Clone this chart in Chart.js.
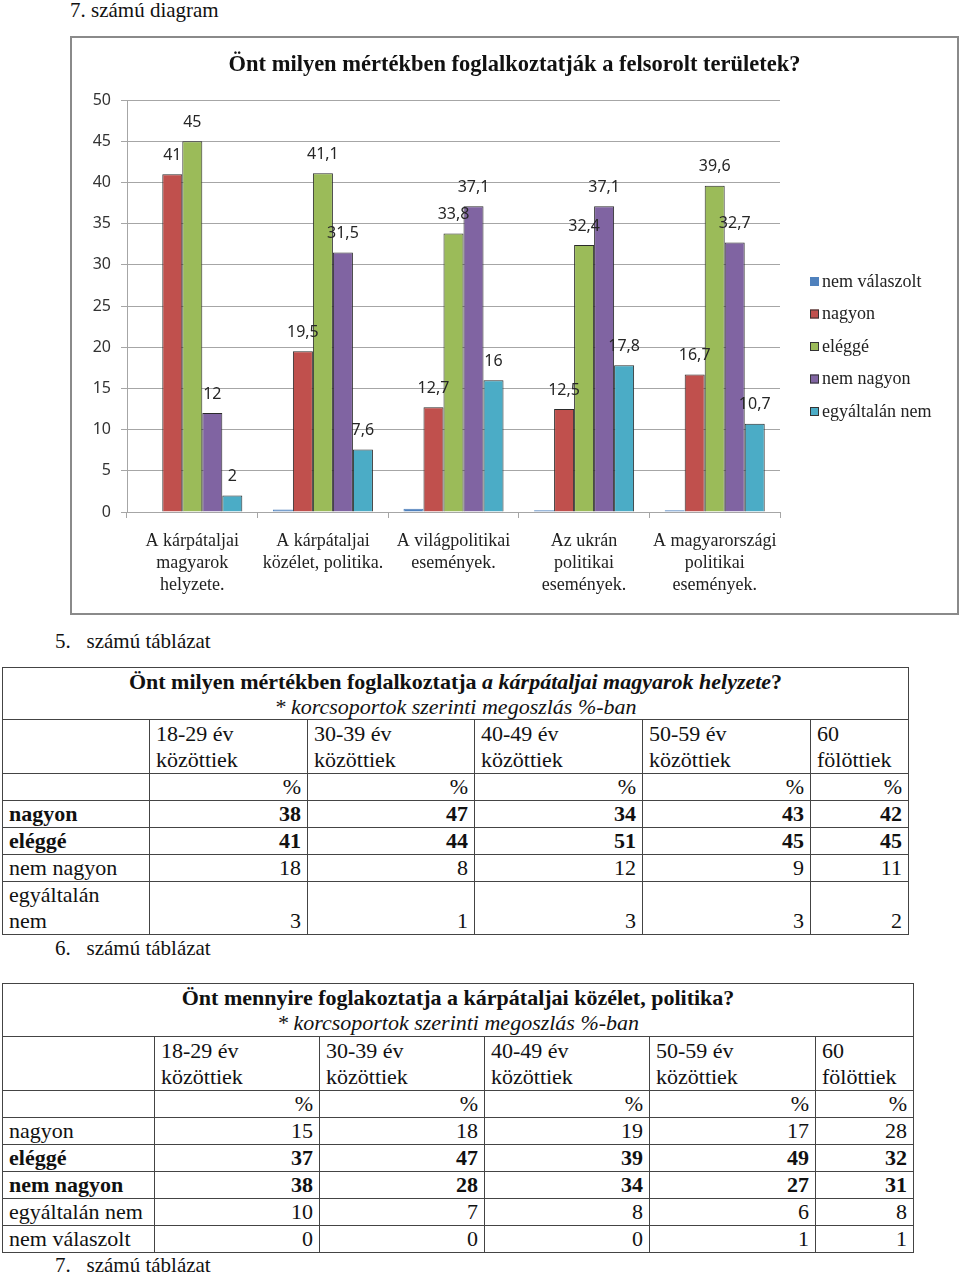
<!DOCTYPE html>
<html lang="hu">
<head>
<meta charset="utf-8">
<title>7. számú diagram</title>
<script src="https://cdn.jsdelivr.net/npm/chart.js@4.4.0/dist/chart.umd.min.js"></script>
<style>
    body { margin: 0; background: #fff; font-family: "Liberation Serif", "Times New Roman", serif; color: #111; }
    .page { position: relative; width: 960px; height: 1275px; overflow: hidden; }
    .caption { position: absolute; font-size: 21px; line-height: 24px; white-space: nowrap; }
    .frame { position: absolute; left: 70px; top: 36px; width: 889px; height: 579px; border: 2px solid #8a8a8a; box-sizing: border-box; }
    .frame .inner { position: relative; width: 885px; height: 575px; }
    table.tab { position: absolute; border-collapse: collapse; table-layout: fixed; font-size: 22px; font-family: "Liberation Serif", "Times New Roman", serif; }
    table.tab td { border: 1px solid #444; padding: 0 6px; white-space: nowrap; line-height: 26px; vertical-align: middle; }
    table.tab td.num { text-align: right; }
    table.tab td.title { text-align: center; line-height: 25px; padding: 0; }
    table.tab tr.b td { font-weight: bold; }
    table.tab td.bot { vertical-align: bottom; }
</style>
</head>
<body>
<div class="page">
    <div class="caption" style="left:70px; top:-2px;">7. számú diagram</div>

    <div class="frame"><div class="inner"><canvas id="chart-areas"></canvas></div></div>

    <div class="caption" style="left:55px; top:629px;">5.&nbsp;&nbsp;&nbsp;számú táblázat</div>
    <table class="tab" id="table-5" style="left:2px; top:667px;"></table>

    <div class="caption" style="left:55px; top:936px;">6.&nbsp;&nbsp;&nbsp;számú táblázat</div>
    <table class="tab" id="table-6" style="left:2px; top:983px;"></table>

    <div class="caption" style="left:55px; top:1253px;">7.&nbsp;&nbsp;&nbsp;számú táblázat</div>
</div>

<script>
/* ── Chart data ── */
var areaLabels = [
    ['A kárpátaljai', 'magyarok', 'helyzete.'],
    ['A kárpátaljai', 'közélet, politika.'],
    ['A világpolitikai', 'események.'],
    ['Az ukrán', 'politikai', 'események.'],
    ['A magyarországi', 'politikai', 'események.']
];
var seriesNames = ['nem válaszolt', 'nagyon', 'eléggé', 'nem nagyon', 'egyáltalán nem'];
var nemValaszolt = [0, 0.3, 0.4, 0.2, 0.2];
var nagyon = [41, 19.5, 12.7, 12.5, 16.7];
var eleggeVals = [45, 41.1, 33.8, 32.4, 39.6];
var nemNagyon = [12, 31.5, 37.1, 37.1, 32.7];
var egyaltalanNem = [2, 7.6, 16, 17.8, 10.7];
var seriesColors = ['#4f81bd', '#c0504d', '#9bbb59', '#8064a2', '#4bacc6'];

/* ── Table data ── */
var ageGroups = [['18-29 év', 'közöttiek'], ['30-39 év', 'közöttiek'], ['40-49 év', 'közöttiek'], ['50-59 év', 'közöttiek'], ['60', 'fölöttiek']];
var t5Rows = ['nagyon', 'eléggé', 'nem nagyon', 'egyáltalán nem'];
var t5Nagyon = [38, 47, 34, 43, 42];
var t5Elegge = [41, 44, 51, 45, 45];
var t5NemNagyon = [18, 8, 12, 9, 11];
var t5Egyaltalan = [3, 1, 3, 3, 2];
var t6Rows = ['nagyon', 'eléggé', 'nem nagyon', 'egyáltalán nem', 'nem válaszolt'];
var t6Nagyon = [15, 18, 19, 17, 28];
var t6Elegge = [37, 47, 39, 49, 32];
var t6NemNagyon = [38, 28, 34, 27, 31];
var t6Egyaltalan = [10, 7, 8, 6, 8];
var t6NemValaszolt = [0, 0, 0, 1, 1];

/* ================================================================
    BAR CHART
================================================================ */
var gridGray = '#a6a6a6';

// value labels above bars (skip the near-zero "nem válaszolt" series)
var barValueLabels = {
    id: 'barValueLabels',
    afterDatasetsDraw: function (chart) {
        var ctx = chart.ctx;
        ctx.save();
        ctx.font = '16px "Noto Sans", "Open Sans", sans-serif';
        ctx.fillStyle = '#262626';
        ctx.textAlign = 'center';
        ctx.textBaseline = 'middle';
        chart.data.datasets.forEach(function (ds, di) {
            if (di === 0) return;
            chart.getDatasetMeta(di).data.forEach(function (bar, i) {
                ctx.fillText(String(ds.data[i]).replace('.', ','), bar.x, bar.y - 19);
            });
        });
        ctx.restore();
    }
};

// legend drawn on the right, like the Excel original
var sideLegend = {
    id: 'sideLegend',
    afterDraw: function (chart) {
        var ctx = chart.ctx;
        var x = chart.chartArea.right + 30;
        var y = 244;
        ctx.save();
        ctx.font = '18px "Liberation Serif", serif';
        ctx.textBaseline = 'middle';
        ctx.textAlign = 'left';
        chart.data.datasets.forEach(function (ds, di) {
            var yy = y + di * 32.5;
            ctx.fillStyle = ds.backgroundColor;
            ctx.fillRect(x, yy - 5, 9, 9);
            if (di > 0) {
                ctx.strokeStyle = '#333';
                ctx.lineWidth = 1;
                ctx.strokeRect(x + 0.5, yy - 4.5, 8, 8);
            }
            ctx.fillStyle = '#222';
            ctx.fillText(ds.label, x + 12, yy);
        });
        ctx.restore();
    }
};

var seriesData = [nemValaszolt, nagyon, eleggeVals, nemNagyon, egyaltalanNem];

new Chart(document.getElementById('chart-areas'), {
    type: 'bar',
    data: {
        labels: areaLabels,
        datasets: seriesNames.map(function (name, i) {
            return {
                label: name,
                data: seriesData[i],
                backgroundColor: seriesColors[i],
                borderColor: i === 0 ? seriesColors[0] : '#2b2b2b',
                borderWidth: 1,
                barPercentage: 1,
                categoryPercentage: 0.766
            };
        })
    },
    options: {
        responsive: true,
        maintainAspectRatio: false,
        animation: false,
        layout: { padding: 0 },
        plugins: {
            legend: { display: false },
            tooltip: { enabled: false },
            title: {
                display: true,
                text: 'Önt milyen mértékben foglalkoztatják a felsorolt területek?',
                font: { family: '"Liberation Serif", serif', size: 22.5, weight: 'bold', lineHeight: 1.2 },
                color: '#111',
                padding: { top: 14, bottom: 21 }
            }
        },
        scales: {
            x: {
                grid: { display: true, drawOnChartArea: false, drawTicks: true, tickLength: 6, color: gridGray, offset: true },
                border: { color: gridGray },
                ticks: {
                    color: '#222',
                    font: { family: '"Liberation Serif", serif', size: 18, lineHeight: 1.22 },
                    padding: 12,
                    maxRotation: 0,
                    autoSkip: false
                },
                afterFit: function (scale) { scale.height = 101; }
            },
            y: {
                min: 0,
                max: 50,
                ticks: {
                    stepSize: 5,
                    color: '#333',
                    font: { family: '"Noto Sans", "Open Sans", sans-serif', size: 16 },
                    padding: 10
                },
                grid: { color: gridGray, tickLength: 6 },
                border: { color: gridGray },
                afterFit: function (scale) { scale.width = 55; }
            },
            // empty right-hand axis that only reserves room for the legend
            legendSpace: {
                type: 'linear',
                position: 'right',
                display: true,
                grid: { display: false },
                border: { display: false },
                ticks: { display: false },
                afterFit: function (scale) { scale.width = 177; }
            }
        }
    },
    plugins: [barValueLabels, sideLegend]
});

/* ================================================================
    TABLES
================================================================ */
function buildTable(id, colWidths, rowHeights, titleHtml, rows) {
    var html = '<colgroup>';
    colWidths.forEach(function (w) { html += '<col style="width:' + w + 'px">'; });
    html += '</colgroup>';
    html += '<tr style="height:' + rowHeights[0] + 'px"><td class="title" colspan="6">' + titleHtml +
        '<br><i style="font-weight:normal">* korcsoportok szerinti megoszlás %-ban</i></td></tr>';
    html += '<tr style="height:' + rowHeights[1] + 'px"><td></td>';
    ageGroups.forEach(function (g) { html += '<td>' + g[0] + '<br>' + g[1] + '</td>'; });
    html += '</tr>';
    html += '<tr style="height:' + rowHeights[2] + 'px"><td></td>';
    ageGroups.forEach(function () { html += '<td class="num">%</td>'; });
    html += '</tr>';
    rows.forEach(function (r, ri) {
        html += '<tr class="' + (r.bold ? 'b' : '') + '" style="height:' + rowHeights[3 + ri] + 'px"><td>' + r.label + '</td>';
        r.values.forEach(function (v) { html += '<td class="num' + (r.bottom ? ' bot' : '') + '">' + v + '</td>'; });
        html += '</tr>';
    });
    var tbl = document.getElementById(id);
    tbl.innerHTML = html;
    tbl.style.width = colWidths.reduce(function (a, b) { return a + b; }, 0) + 'px';
}

buildTable('table-5', [147, 158, 167, 168, 168, 98], [52, 54, 27, 27, 27, 26, 53],
    '<b>Önt milyen mértékben foglalkoztatja <i>a kárpátaljai magyarok helyzete</i>?</b>',
    [
        { label: t5Rows[0], values: t5Nagyon, bold: true },
        { label: t5Rows[1], values: t5Elegge, bold: true },
        { label: t5Rows[2], values: t5NemNagyon },
        { label: 'egyáltalán<br>nem', values: t5Egyaltalan, bottom: true }
    ]);

buildTable('table-6', [152, 165, 165, 165, 166, 98], [53, 54, 27, 27, 27, 27, 27, 27],
    '<b>Önt mennyire foglakoztatja a kárpátaljai közélet, politika?</b>',
    [
        { label: t6Rows[0], values: t6Nagyon },
        { label: t6Rows[1], values: t6Elegge, bold: true },
        { label: t6Rows[2], values: t6NemNagyon, bold: true },
        { label: t6Rows[3], values: t6Egyaltalan },
        { label: t6Rows[4], values: t6NemValaszolt }
    ]);
</script>
</body>
</html>
